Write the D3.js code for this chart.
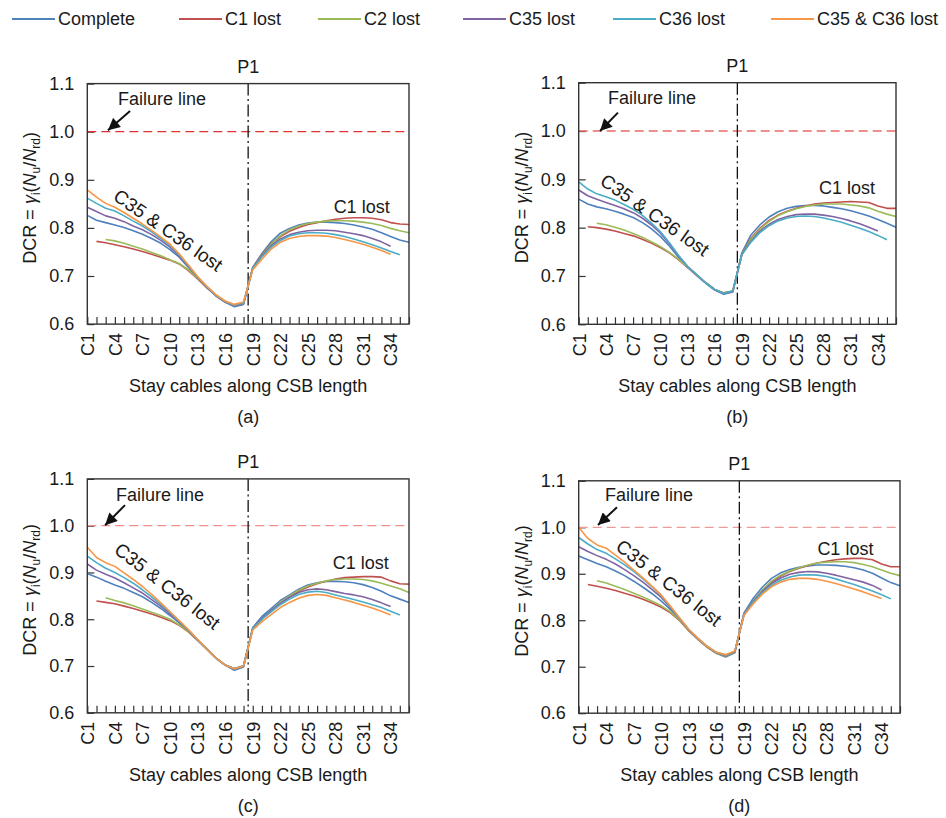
<!DOCTYPE html>
<html>
<head>
<meta charset="utf-8">
<script src="https://cdn.jsdelivr.net/npm/d3@7"></script>
<style>
  body { margin: 0; background: #fff; }
  svg { display: block; }
  text { font-family: "Liberation Sans", Arial, Helvetica, sans-serif; fill: #1a1a1a; }
</style>
</head>
<body>
<svg id="chart" width="946" height="818"></svg>
<script>
// ---- data -------------------------------------------------------------
const cables = d3.range(1, 37).map(i => "C" + i);          // C1 … C36
const tickLabels = ["C1", "C4", "C7", "C10", "C13", "C16", "C19", "C22", "C25", "C28", "C31", "C34"];
const yTicks = [0.6, 0.7, 0.8, 0.9, 1.0, 1.1];
const seriesNames = ["Complete", "C1 lost", "C2 lost", "C35 lost", "C36 lost", "C35 & C36 lost"];
const seriesColors = ["#4F81BD", "#C0504D", "#9BBB59", "#8064A2", "#4BACC6", "#F79646"];
const failureDCR = 1.0;
const pylonPosition = 18.5;   // tower between C18 and C19
const panelTitles = ["P1", "P1", "P1", "P1"];
const panelLetters = ["(a)", "(b)", "(c)", "(d)"];
const _ = null;

// (a)
const a_complete   = [.826,.816,.811,.806,.801,.794,.787,.778,.768,.755,.739,.718,.696,.676,.659,.646,.636,.641,.718,.747,.771,.789,.799,.806,.810,.812,.812,.811,.809,.806,.802,.797,.790,.782,.775,.770];
const a_c1Lost     = [_,.772,.769,.765,.761,.756,.751,.745,.739,.733,.725,.711,.694,.676,.659,.646,.638,.643,.717,.744,.767,.782,.793,.801,.807,.811,.815,.818,.820,.821,.821,.820,.817,.811,.808,.807];
const a_c2Lost     = [_,_,.776,.773,.768,.762,.756,.749,.742,.734,.726,.713,.695,.677,.659,.646,.638,.643,.716,.743,.766,.784,.796,.804,.809,.812,.814,.815,.815,.814,.812,.809,.805,.799,.794,.790];
const a_c35Lost    = [.843,.834,.825,.820,.813,.804,.796,.786,.774,.760,.742,.720,.697,.677,.659,.646,.638,.643,.716,.742,.763,.777,.786,.791,.794,.795,.795,.794,.791,.788,.784,.778,.771,.762,_,_];
const a_c36Lost    = [.862,.851,.841,.835,.825,.814,.804,.792,.778,.763,.744,.722,.698,.678,.660,.647,.639,.644,.716,.740,.760,.774,.783,.788,.790,.790,.789,.786,.782,.777,.771,.765,.758,.751,.744,_];
const a_c35c36Lost = [.879,.864,.851,.843,.832,.820,.808,.795,.781,.766,.746,.723,.699,.679,.661,.648,.641,.646,.713,.735,.756,.770,.778,.782,.784,.784,.783,.780,.776,.771,.766,.760,.753,.745,_,_];

// (b)
const b_complete   = [.859,.849,.843,.839,.834,.828,.821,.811,.798,.782,.762,.739,.718,.701,.685,.671,.662,.667,.748,.785,.806,.822,.833,.840,.844,.846,.846,.845,.842,.839,.835,.830,.824,.817,.809,.801];
const b_c1Lost     = [_,.802,.800,.797,.793,.788,.783,.776,.768,.759,.748,.734,.718,.702,.686,.672,.665,.669,.745,.778,.799,.815,.826,.834,.840,.845,.849,.851,.852,.853,.854,.853,.852,.845,.840,.840];
const b_c2Lost     = [_,_,.809,.806,.801,.795,.788,.780,.771,.761,.749,.735,.719,.703,.686,.672,.665,.669,.745,.776,.797,.813,.825,.833,.839,.844,.847,.849,.849,.849,.847,.845,.841,.834,.828,.823];
const b_c35Lost    = [.878,.866,.859,.852,.846,.839,.831,.820,.806,.789,.767,.742,.720,.703,.686,.672,.664,.668,.745,.772,.793,.807,.817,.823,.827,.828,.828,.826,.823,.819,.814,.808,.801,.793,_,_];
const b_c36Lost    = [.895,.880,.870,.864,.857,.848,.838,.826,.810,.792,.769,.743,.720,.703,.686,.672,.664,.669,.744,.770,.790,.804,.814,.820,.823,.824,.823,.820,.816,.811,.805,.799,.792,.784,.775,_];

// (c)
const c_complete   = [.898,.890,.881,.873,.866,.857,.848,.836,.823,.808,.792,.775,.755,.736,.717,.702,.691,.698,.782,.806,.823,.840,.852,.864,.873,.878,.881,.881,.880,.878,.874,.868,.860,.850,.843,.836];
const c_c1Lost     = [_,.839,.836,.833,.828,.823,.817,.811,.804,.797,.787,.773,.755,.736,.717,.702,.694,.700,.780,.800,.818,.834,.848,.860,.869,.876,.881,.886,.889,.890,.891,.891,.890,.882,.876,.875];
const c_c2Lost     = [_,_,.846,.840,.835,.829,.822,.815,.808,.800,.788,.774,.755,.736,.717,.702,.694,.700,.780,.801,.819,.836,.850,.862,.871,.877,.882,.885,.886,.886,.885,.882,.877,.871,.865,.857];
const c_c35Lost    = [.918,.905,.896,.888,.878,.867,.856,.842,.828,.812,.795,.776,.756,.737,.717,.702,.694,.700,.781,.802,.819,.834,.847,.857,.863,.865,.863,.859,.855,.852,.848,.842,.835,.827,_,_];
const c_c36Lost    = [.935,.921,.909,.900,.889,.877,.863,.848,.832,.815,.796,.777,.756,.737,.717,.702,.694,.701,.780,.800,.816,.831,.843,.853,.858,.860,.857,.852,.847,.842,.837,.831,.825,.817,.809,_];
const c_c35c36Lost = [.954,.932,.921,.913,.899,.885,.870,.853,.835,.816,.797,.778,.757,.737,.717,.702,.694,.700,.777,.795,.810,.825,.836,.845,.851,.853,.851,.846,.841,.836,.830,.824,.817,.809,_,_];

// (d)
const d_complete   = [.938,.930,.922,.915,.906,.896,.884,.871,.857,.841,.823,.801,.778,.759,.742,.729,.721,.730,.815,.847,.871,.890,.902,.909,.914,.917,.919,.919,.918,.916,.913,.908,.901,.891,.881,.874];
const d_c1Lost     = [_,.877,.873,.869,.864,.858,.852,.845,.837,.828,.816,.799,.777,.759,.742,.729,.723,.731,.812,.840,.864,.882,.895,.905,.912,.918,.923,.927,.930,.932,.933,.933,.930,.921,.915,.915];
const d_c2Lost     = [_,_,.885,.880,.873,.866,.858,.850,.841,.831,.818,.800,.778,.759,.742,.729,.723,.731,.812,.841,.865,.884,.897,.906,.913,.919,.923,.925,.926,.926,.924,.920,.915,.908,.901,.896];
const d_c35Lost    = [.958,.948,.939,.931,.921,.909,.896,.882,.866,.849,.827,.803,.779,.760,.743,.730,.724,.732,.813,.840,.862,.879,.891,.899,.903,.905,.904,.901,.897,.892,.887,.882,.875,.865,_,_];
const d_c36Lost    = [.978,.964,.952,.944,.932,.919,.905,.889,.872,.853,.829,.804,.780,.761,.744,.731,.725,.733,.812,.838,.859,.875,.886,.893,.897,.898,.897,.894,.889,.883,.877,.870,.863,.855,.846,_];
const d_c35c36Lost = [1.000,.976,.962,.955,.940,.925,.908,.891,.873,.854,.830,.805,.780,.761,.744,.731,.726,.734,.810,.835,.856,.872,.882,.888,.890,.890,.888,.884,.879,.873,.867,.861,.854,.847,_,_];

// ---- layout -----------------------------------------------------------
const panels = [
  { series: [a_complete, a_c1Lost, a_c2Lost, a_c35Lost, a_c36Lost, a_c35c36Lost],
    box: { left: 87.3, right: 409, top: 83.6, bottom: 324.1 }, failColor: "#e3312f",
    failText: [4.34, 1.056], arrowFrom: [5.65, 1.043], arrowTo: [3.25, 1.003],
    lostText: [3.7, 0.860], lostAngle: 35, c1Text: [27.8, 0.831] },
  { series: [b_complete, b_c1Lost, b_c2Lost, b_c35Lost, b_c36Lost, null],
    box: { left: 578.7, right: 896, top: 82.7, bottom: 324.3 }, failColor: "#e96b66",
    failText: [4.23, 1.056], arrowFrom: [5.33, 1.038], arrowTo: [3.35, 1.000],
    lostText: [3.2, 0.891], lostAngle: 35, c1Text: [27.5, 0.870] },
  { series: [c_complete, c_c1Lost, c_c2Lost, c_c35Lost, c_c36Lost, c_c35c36Lost],
    box: { left: 87.3, right: 409, top: 478.9, bottom: 712.8 }, failColor: "#ef8f8d",
    failText: [4.13, 1.053], arrowFrom: [5.1, 1.044], arrowTo: [2.94, 1.001],
    lostText: [3.8, 0.944], lostAngle: 38, c1Text: [27.7, 0.907] },
  { series: [d_complete, d_c1Lost, d_c2Lost, d_c35Lost, d_c36Lost, d_c35c36Lost],
    box: { left: 578.7, right: 900, top: 480.8, bottom: 713.2 }, failColor: "#f09a98",
    failText: [3.86, 1.056], arrowFrom: [5.17, 1.043], arrowTo: [3.1, 1.005],
    lostText: [4.9, 0.954], lostAngle: 38, c1Text: [27.0, 0.940] }
];

const svg = d3.select("#chart");
const FS = 18;

// arrowhead
svg.append("defs").append("marker")
  .attr("id", "arrowHead")
  .attr("markerUnits", "userSpaceOnUse")
  .attr("viewBox", "0 0 10 10")
  .attr("refX", 10).attr("refY", 5)
  .attr("markerWidth", 13).attr("markerHeight", 12)
  .attr("orient", "auto")
  .append("path").attr("d", "M0,0 L10,5 L0,10 Z").attr("fill", "#111");

// ---- legend -----------------------------------------------------------
const legendX = [12, 179, 318, 463, 613, 771];
const legend = svg.append("g").attr("class", "legend");
seriesNames.forEach((name, k) => {
  const g = legend.append("g").attr("transform", `translate(${legendX[k]},19)`);
  g.append("line").attr("x1", 0).attr("x2", 43).attr("y1", 0).attr("y2", 0)
    .attr("stroke", seriesColors[k]).attr("stroke-width", 1.8);
  g.append("text").attr("x", 46).attr("dy", "0.35em").style("font-size", FS + "px").text(name);
});

// ---- panels -----------------------------------------------------------
panels.forEach((p, pi) => {
  const b = p.box;
  const x = d3.scaleLinear().domain([1, cables.length]).range([b.left, b.right]);
  const y = d3.scaleLinear().domain([yTicks[0], yTicks[yTicks.length - 1]]).range([b.bottom, b.top]);
  const g = svg.append("g");
  const cx = (b.left + b.right) / 2;

  // axes with inward ticks
  const xAxis = d3.axisBottom(x)
    .tickValues(d3.range(1, cables.length + 1))
    .tickSizeInner(-7).tickSizeOuter(0)
    .tickFormat(i => tickLabels.includes(cables[i - 1]) ? cables[i - 1] : "");
  const gx = g.append("g").attr("transform", `translate(0,${b.bottom})`).call(xAxis);
  gx.select(".domain").remove();
  gx.selectAll(".tick line").attr("stroke", "#333").attr("stroke-width", 1.2);
  gx.selectAll(".tick text")
    .attr("transform", "rotate(-90)")
    .attr("x", -9).attr("y", 0).attr("dy", "0.35em")
    .style("text-anchor", "end").style("font-size", FS + "px").attr("fill", "#1a1a1a");

  const yAxis = d3.axisLeft(y).tickValues(yTicks).tickSizeInner(-7).tickSizeOuter(0)
    .tickPadding(13).tickFormat(d3.format(".1f"));
  const gy = g.append("g").attr("transform", `translate(${b.left},0)`).call(yAxis);
  gy.select(".domain").remove();
  gy.selectAll(".tick line").attr("stroke", "#333").attr("stroke-width", 1.2);
  gy.selectAll(".tick text").style("font-size", FS + "px").attr("fill", "#1a1a1a");

  // failure line
  g.append("line")
    .attr("x1", b.left).attr("x2", b.right)
    .attr("y1", y(failureDCR)).attr("y2", y(failureDCR))
    .attr("stroke", p.failColor).attr("stroke-width", 1.3).attr("stroke-dasharray", "9,5");

  // pylon (dash-dot)
  g.append("line")
    .attr("x1", x(pylonPosition)).attr("x2", x(pylonPosition))
    .attr("y1", b.top).attr("y2", b.bottom)
    .attr("stroke", "#111").attr("stroke-width", 1.3).attr("stroke-dasharray", "12,3.5,2,3.5");

  // series
  const line = d3.line().defined(d => d != null).x((d, i) => x(i + 1)).y(d => y(d));
  p.series.forEach((vals, k) => {
    if (!vals) return;
    g.append("path").datum(vals)
      .attr("fill", "none").attr("stroke", seriesColors[k])
      .attr("stroke-width", 1.6).attr("stroke-linejoin", "round")
      .attr("d", line);
  });

  // frame
  g.append("rect")
    .attr("x", b.left).attr("y", b.top)
    .attr("width", b.right - b.left).attr("height", b.bottom - b.top)
    .attr("fill", "none").attr("stroke", "#333").attr("stroke-width", 1.4);

  // annotations
  g.append("text").attr("x", x(p.failText[0])).attr("y", y(p.failText[1]))
    .style("font-size", FS + "px").text("Failure line");
  g.append("line")
    .attr("x1", x(p.arrowFrom[0])).attr("y1", y(p.arrowFrom[1]))
    .attr("x2", x(p.arrowTo[0])).attr("y2", y(p.arrowTo[1]))
    .attr("stroke", "#111").attr("stroke-width", 2)
    .attr("marker-end", "url(#arrowHead)");
  g.append("text")
    .attr("transform", `translate(${x(p.lostText[0])},${y(p.lostText[1])}) rotate(${p.lostAngle})`)
    .style("font-size", "19px").text("C35 & C36 lost");
  g.append("text").attr("x", x(p.c1Text[0])).attr("y", y(p.c1Text[1]))
    .style("font-size", FS + "px").text("C1 lost");

  // titles
  g.append("text").attr("x", cx).attr("y", b.top - 11).attr("text-anchor", "middle")
    .style("font-size", FS + "px").text(panelTitles[pi]);
  g.append("text").attr("x", cx).attr("y", b.bottom + 68).attr("text-anchor", "middle")
    .style("font-size", FS + "px").text("Stay cables along CSB length");
  g.append("text").attr("x", cx).attr("y", b.bottom + 99).attr("text-anchor", "middle")
    .style("font-size", FS + "px").text(panelLetters[pi]);

  // y title: DCR = γi(Nu/Nrd)
  const yt = g.append("text")
    .attr("transform", `translate(${b.left - 51},${(b.top + b.bottom) / 2 - 6}) rotate(-90)`)
    .attr("text-anchor", "middle").style("font-size", FS + "px");
  yt.append("tspan").text("DCR = ");
  yt.append("tspan").style("font-style", "italic").text("γ");
  yt.append("tspan").attr("dy", 4).style("font-size", "12px").text("i");
  yt.append("tspan").attr("dy", -4).text("(");
  yt.append("tspan").style("font-style", "italic").text("N");
  yt.append("tspan").attr("dy", 4).style("font-size", "12px").text("u");
  yt.append("tspan").attr("dy", -4).text("/");
  yt.append("tspan").style("font-style", "italic").text("N");
  yt.append("tspan").attr("dy", 4).style("font-size", "12px").text("rd");
  yt.append("tspan").attr("dy", -4).text(")");
});
</script>
</body>
</html>
